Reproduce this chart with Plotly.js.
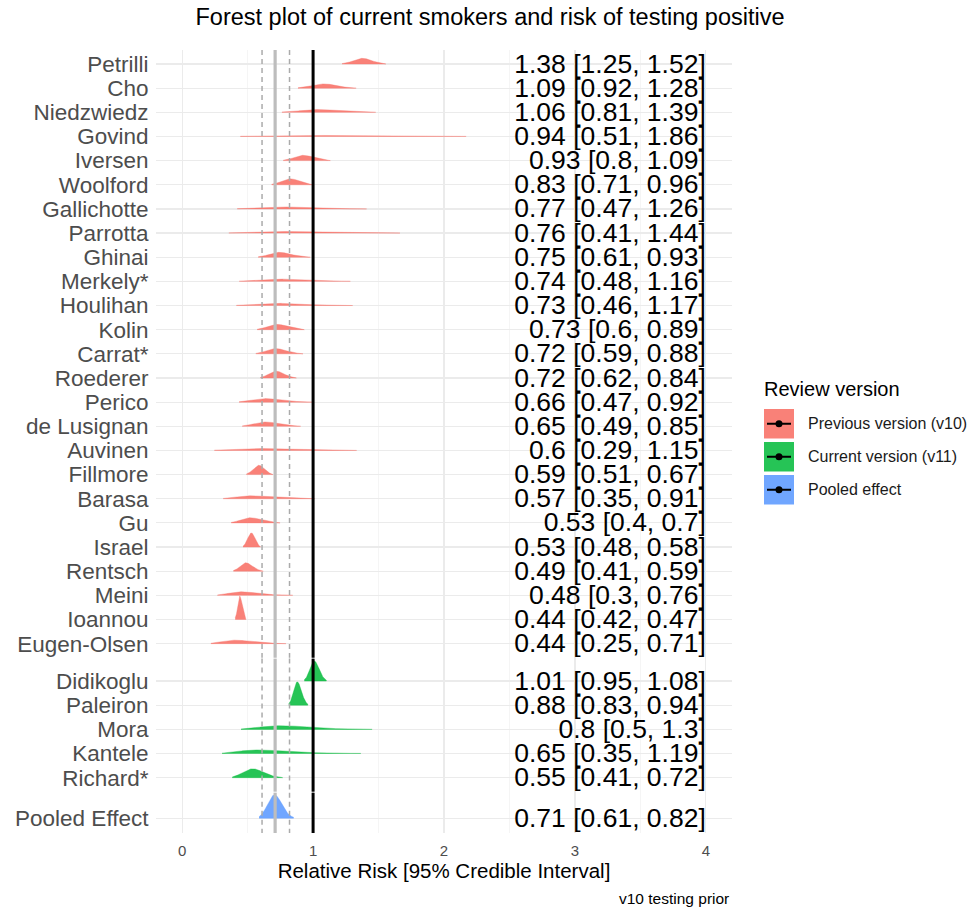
<!DOCTYPE html>
<html><head><meta charset="utf-8">
<script src="https://cdn.plot.ly/plotly-3.0.1.min.js"></script>
<style>body{margin:0;background:#fff}#chart{width:971px;height:908px}</style>
</head><body><div id="chart"></div>
<script>
// ---------- data ----------
const studiesV10 = ['Petrilli','Cho','Niedzwiedz','Govind','Iversen','Woolford','Gallichotte','Parrotta','Ghinai','Merkely*','Houlihan','Kolin','Carrat*','Roederer','Perico','de Lusignan','Auvinen','Fillmore','Barasa','Gu','Israel','Rentsch','Meini','Ioannou','Eugen-Olsen'];
const medianV10 = [1.38,1.09,1.06,0.94,0.93,0.83,0.77,0.76,0.75,0.74,0.73,0.73,0.72,0.72,0.66,0.65,0.6,0.59,0.57,0.53,0.53,0.49,0.48,0.44,0.44];
const lowerV10  = [1.25,0.92,0.81,0.51,0.8,0.71,0.47,0.41,0.61,0.48,0.46,0.6,0.59,0.62,0.47,0.49,0.29,0.51,0.35,0.4,0.48,0.41,0.3,0.42,0.25];
const upperV10  = [1.52,1.28,1.39,1.86,1.09,0.96,1.26,1.44,0.93,1.16,1.17,0.89,0.88,0.84,0.92,0.85,1.15,0.67,0.91,0.7,0.58,0.59,0.76,0.47,0.71];

const studiesV11 = ['Didikoglu','Paleiron','Mora','Kantele','Richard*'];
const medianV11 = [1.01,0.88,0.8,0.65,0.55];
const lowerV11  = [0.95,0.83,0.5,0.35,0.41];
const upperV11  = [1.08,0.94,1.3,1.19,0.72];

const studiesPooled = ['Pooled Effect'];
const medianPooled = [0.71];
const lowerPooled  = [0.61];
const upperPooled  = [0.82];

const versionNames = ['Previous version (v10)','Current version (v11)','Pooled effect'];
const xTickVals = [0,1,2,3,4];
const nullEffect = 1;

// ---------- styling / layout ----------
const FONT = 'Liberation Sans, Arial, Helvetica, sans-serif';
const colors = ['rgba(248,118,109,0.92)','rgba(0,186,56,0.85)','rgba(97,156,255,0.9)'];
const L = 156, R = 732, T = 50, B = 833, W = 971, H = 908;
const rowGapAfter = [0.55, 0.68]; // extra spacing between facet panels (row units)
const bandwidth = 0.011;
const ridgeScale = 0.97;
const tailSigma = 2.4;

const groups = [
  {names: studiesV10, med: medianV10, lo: lowerV10, hi: upperV10},
  {names: studiesV11, med: medianV11, lo: lowerV11, hi: upperV11},
  {names: studiesPooled, med: medianPooled, lo: lowerPooled, hi: upperPooled}
];

// row positions (row units, top = 0)
let pos = 0;
const panelRanges = [];
groups.forEach((g, gi) => {
  g.pos = [];
  g.names.forEach(() => { g.pos.push(pos); pos += 1; });
  panelRanges.push([g.pos[0], g.pos[g.pos.length - 1]]);
  if (gi < rowGapAfter.length) pos += rowGapAfter[gi];
});
const lastPos = pos - 1;
const yRange = [lastPos + 0.61, -0.58];

function ridge(m, lo, hi) {
  const sL = Math.sqrt(Math.pow(Math.log(m / lo) / 1.96, 2) + Math.pow(bandwidth / m, 2));
  const sR = Math.sqrt(Math.pow(Math.log(hi / m) / 1.96, 2) + Math.pow(bandwidth / m, 2));
  const x0 = m * Math.exp(-tailSigma * sL), x1 = m * Math.exp(tailSigma * sR);
  const c = 2 / (Math.sqrt(2 * Math.PI) * (sL + sR));
  const xs = [], ds = [];
  const n = 260;
  for (let i = 0; i < n; i++) {
    const x = x0 + (x1 - x0) * i / (n - 1);
    const z = Math.log(x / m) / (x < m ? sL : sR);
    xs.push(x); ds.push(c * Math.exp(-0.5 * z * z) / x);
  }
  return {xs, ds};
}

const traces = [];
groups.forEach((g, gi) => {
  const curves = g.med.map((m, i) => ridge(m, g.lo[i], g.hi[i]));
  const maxD = Math.max(...curves.map(c => Math.max(...c.ds)));
  const k = ridgeScale / maxD;
  curves.forEach((c, i) => {
    const p = g.pos[i];
    const xs = c.xs.concat(c.xs.slice().reverse());
    const ys = c.ds.map(d => p - d * k).concat(c.xs.map(() => p));
    traces.push({
      type: 'scatter', mode: 'lines', x: xs, y: ys, fill: 'toself',
      fillcolor: colors[gi], line: {color: colors[gi], width: 0.4},
      hoverinfo: 'skip', showlegend: false, name: g.names[i]
    });
  });
});

// text column
const fmt = v => String(v);
const textY = [], textS = [], textX = [];
groups.forEach(g => g.med.forEach((m, i) => {
  textY.push(g.pos[i] + 0.08);
  textX.push(xTickVals[xTickVals.length - 1]);
  textS.push(fmt(m) + ' [' + fmt(g.lo[i]) + ', ' + fmt(g.hi[i]) + ']');
}));
traces.push({
  type: 'scatter', mode: 'text', x: textX, y: textY, text: textS,
  textposition: 'middle left', textfont: {family: FONT, size: 26.5, color: '#000'},
  hoverinfo: 'skip', showlegend: false, cliponaxis: false
});

// tick labels for rows
const tickvals = [], ticktext = [];
groups.forEach(g => g.names.forEach((n, i) => { tickvals.push(g.pos[i]); ticktext.push(n); }));

// vertical reference lines, split per panel
const pooledM = medianPooled[0], pooledLo = lowerPooled[0], pooledHi = upperPooled[0];
const panelSpans = panelRanges.map((r, i) => {
  const top = i === 0 ? yRange[1] : panelRanges[i - 1][1] + 0.62;
  const bot = i === panelRanges.length - 1 ? yRange[0] : r[1] + 0.58;
  return [top, bot];
});
const shapes = [];
panelSpans.forEach(s => {
  shapes.push({type: 'line', xref: 'x', yref: 'y', x0: pooledLo, x1: pooledLo, y0: s[0], y1: s[1], line: {color: '#ababab', width: 1.5, dash: '5px,4px'}, layer: 'above'});
  shapes.push({type: 'line', xref: 'x', yref: 'y', x0: pooledHi, x1: pooledHi, y0: s[0], y1: s[1], line: {color: '#ababab', width: 1.5, dash: '5px,4px'}, layer: 'above'});
  shapes.push({type: 'line', xref: 'x', yref: 'y', x0: pooledM, x1: pooledM, y0: s[0], y1: s[1], line: {color: '#bdbdbd', width: 3.2}, layer: 'above'});
  shapes.push({type: 'line', xref: 'x', yref: 'y', x0: nullEffect, x1: nullEffect, y0: s[0], y1: s[1], line: {color: '#000', width: 3}, layer: 'above'});
});

// manual legend (ggplot style)
const px = x => (x - L) / (R - L);
const py = y => (B - y) / (B - T);
const keyTop = 409, keyH = 29.5, keyStep = 33, keyX0 = 764, keyX1 = 794;
const annotations = [
  {text: 'Review version', xref: 'paper', yref: 'paper', x: px(762), y: py(389), xanchor: 'left', yanchor: 'middle', showarrow: false, font: {family: FONT, size: 20, color: '#000'}},
  {text: 'v10 testing prior', xref: 'paper', yref: 'paper', x: px(731), y: py(898), xanchor: 'right', yanchor: 'middle', showarrow: false, font: {family: FONT, size: 15.5, color: '#000'}}
];
versionNames.forEach((nm, i) => {
  const y0 = keyTop + i * keyStep, y1 = y0 + keyH, yc = (y0 + y1) / 2;
  shapes.push({type: 'rect', xref: 'paper', yref: 'paper', x0: px(keyX0), x1: px(keyX1), y0: py(y1), y1: py(y0), fillcolor: colors[i], line: {width: 0}});
  shapes.push({type: 'line', xref: 'paper', yref: 'paper', x0: px(keyX0 + 3), x1: px(keyX1 - 3), y0: py(yc), y1: py(yc), line: {color: '#000', width: 2}});
  shapes.push({type: 'circle', xref: 'paper', yref: 'paper', x0: px(779 - 3.5), x1: px(779 + 3.5), y0: py(yc + 3.5), y1: py(yc - 3.5), fillcolor: '#000', line: {width: 0}});
  annotations.push({text: nm, xref: 'paper', yref: 'paper', x: px(806), y: py(yc), xanchor: 'left', yanchor: 'middle', showarrow: false, font: {family: FONT, size: 16, color: '#1a1a1a'}});
});

const layout = {
  width: W, height: H,
  margin: {l: L, r: W - R, t: T, b: H - B, pad: 0},
  paper_bgcolor: '#fff', plot_bgcolor: '#fff',
  font: {family: FONT},
  title: {text: 'Forest plot of current smokers and risk of testing positive', x: 490 / W, xref: 'container', xanchor: 'center', y: 1 - 17 / H, yref: 'container', yanchor: 'middle', font: {family: FONT, size: 23.5, color: '#000'}},
  xaxis: {
    range: [-0.2, 4.2], tickmode: 'array', tickvals: xTickVals, ticktext: xTickVals.map(String),
    showgrid: true, gridcolor: '#EBEBEB', gridwidth: 1.2,
    minor: {dtick: 0.5, tick0: 0, showgrid: true, gridcolor: '#F3F3F3', gridwidth: 0.8},
    zeroline: false, showline: false, ticks: 'outside', ticklen: 4, tickcolor: 'rgba(0,0,0,0)',
    tickfont: {family: FONT, size: 15, color: '#4D4D4D'},
    title: {text: 'Relative Risk [95% Credible Interval]', font: {family: FONT, size: 20.5, color: '#000'}, standoff: 2}
  },
  yaxis: {
    range: yRange, tickmode: 'array', tickvals: tickvals, ticktext: ticktext,
    showgrid: true, gridcolor: '#EBEBEB', gridwidth: 1.2, zeroline: false, showline: false,
    ticks: 'outside', ticklen: 2, tickcolor: 'rgba(0,0,0,0)',
    tickfont: {family: FONT, size: 22.5, color: '#4D4D4D'}
  },
  shapes: shapes, annotations: annotations, showlegend: false
};

Plotly.newPlot('chart', traces, layout, {displayModeBar: false, staticPlot: true});
</script></body></html>
